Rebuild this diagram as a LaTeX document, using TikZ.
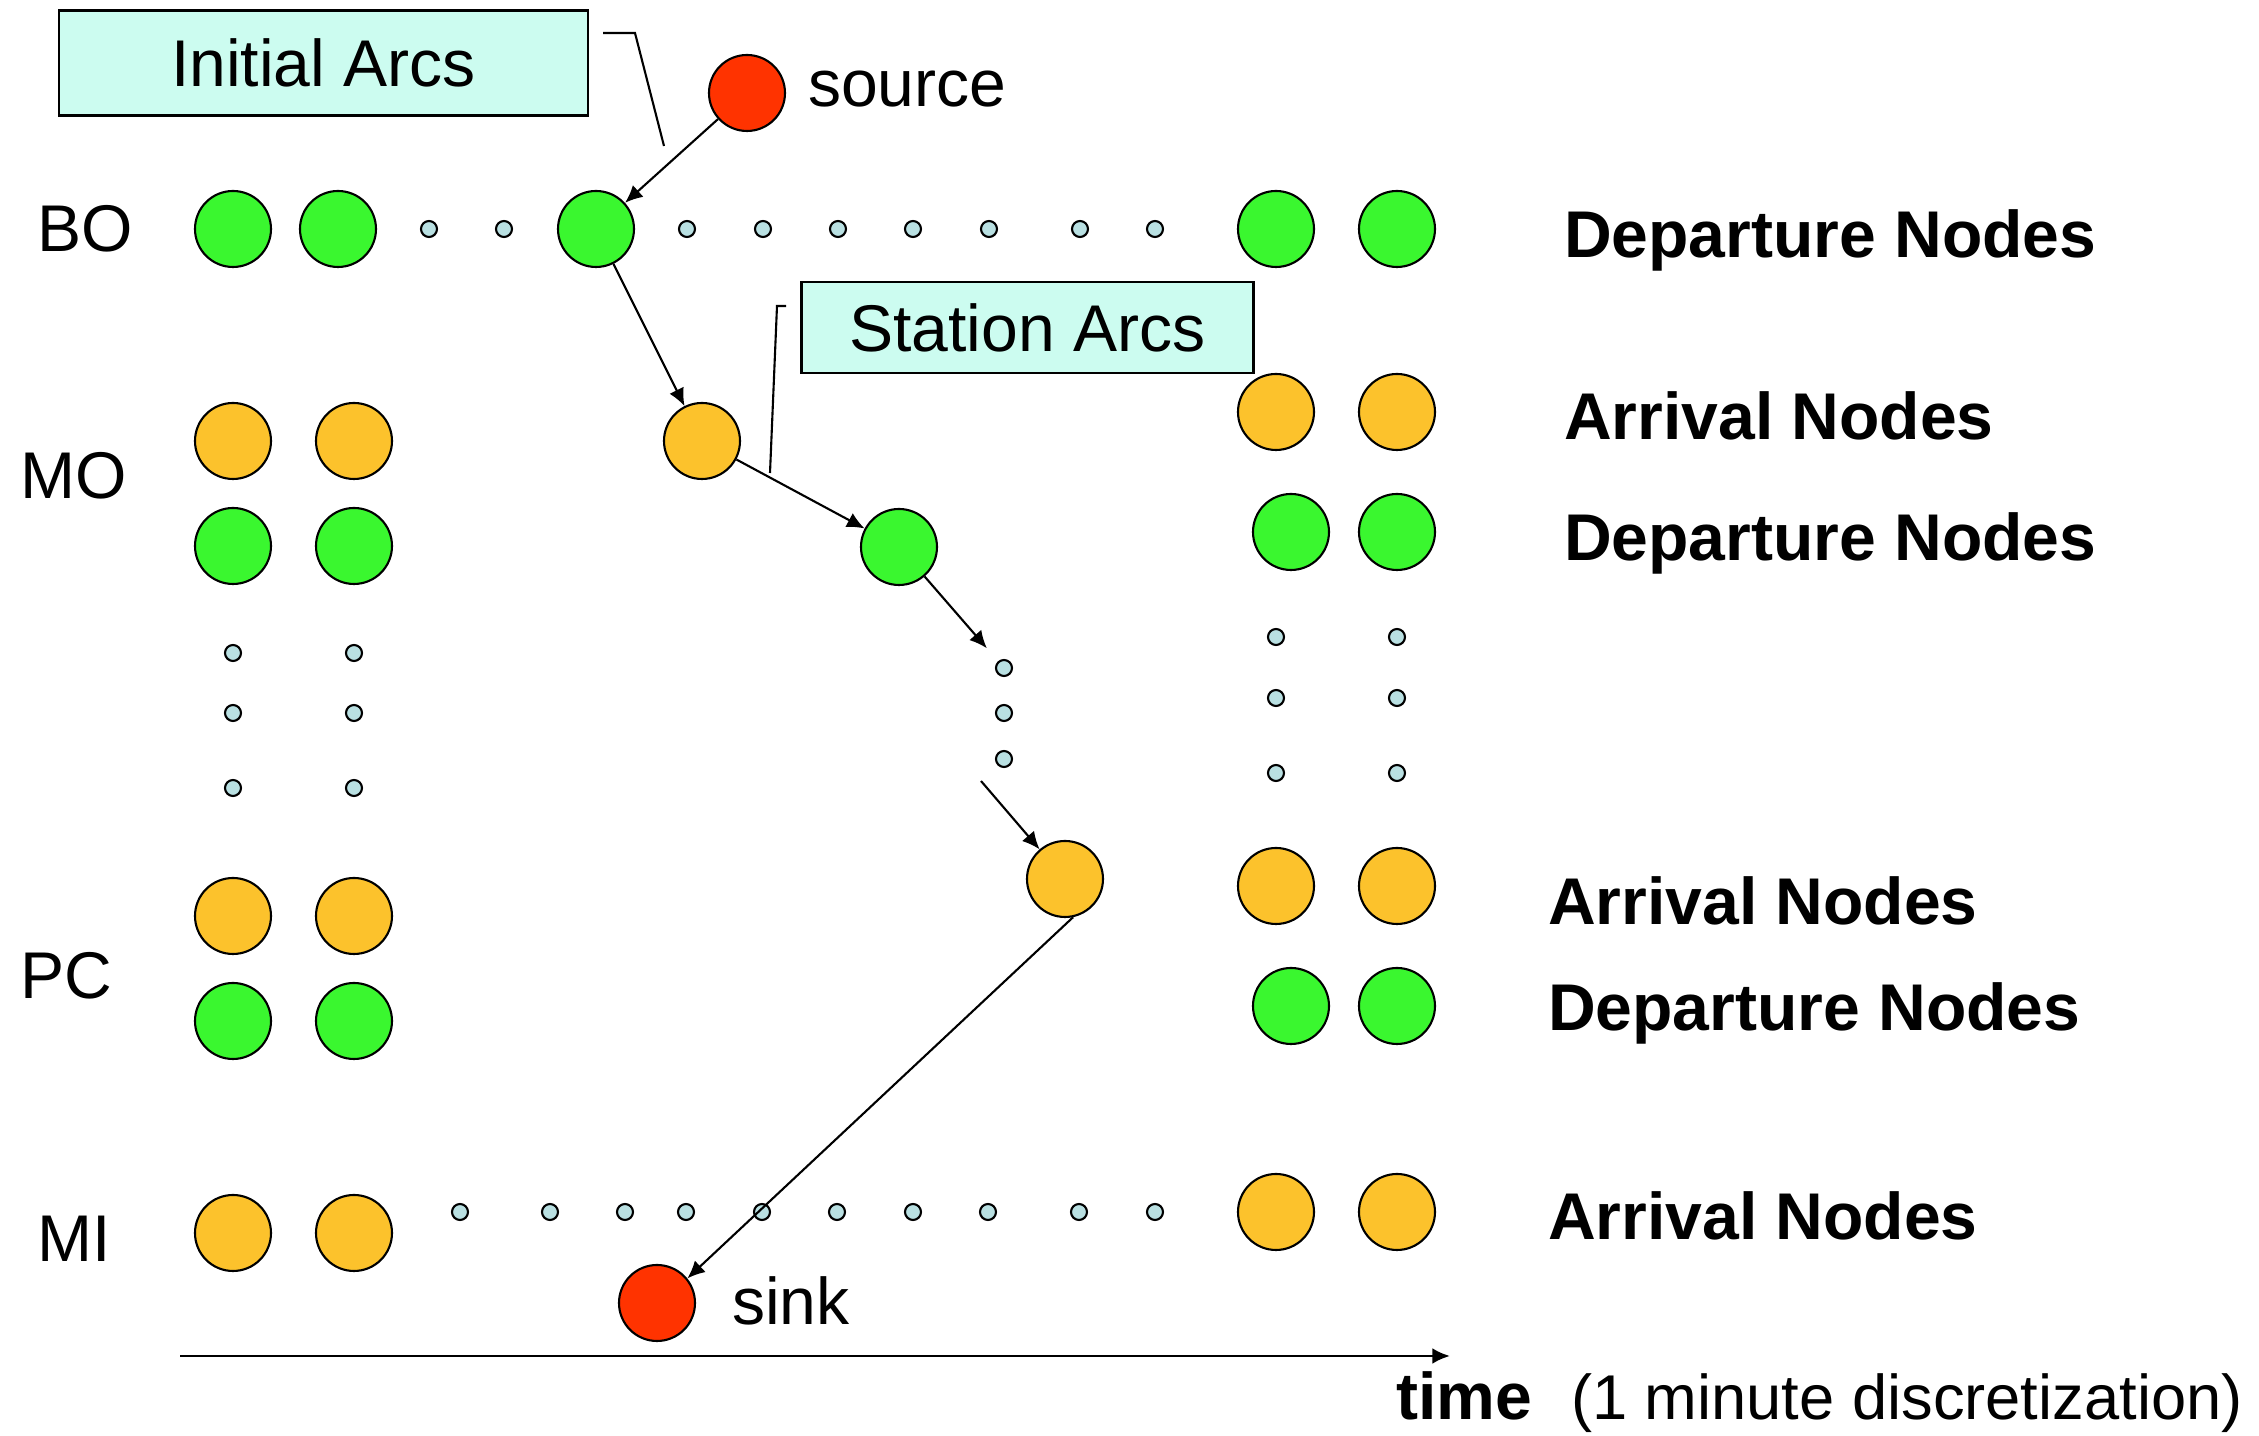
\documentclass[tikz,border=0pt]{standalone}
\usepackage{fontspec}
\setmainfont{Liberation Sans}
\usetikzlibrary{
    arrows.meta,
    positioning
}
\definecolor{depgreen}{RGB}{58,247,47}
\definecolor{arrorange}{RGB}{252,194,44}
\definecolor{termred}{RGB}{255,51,0}
\definecolor{tickblue}{RGB}{185,224,226}
\definecolor{calloutcyan}{RGB}{204,252,240}

\begin{document}
\begin{tikzpicture}[
        line width=0.6pt,
        >={Latex[length=5pt, width=4.5pt]},
        dep/.style={circle, draw, fill=depgreen, minimum size=0.76cm, inner sep=0pt},
        arr/.style={circle, draw, fill=arrorange, minimum size=0.76cm, inner sep=0pt},
        term/.style={circle, draw, fill=termred, minimum size=0.76cm, inner sep=0pt},
        tick/.style={circle, draw, fill=tickblue, minimum size=0.16cm, inner sep=0pt},
        callout/.style={draw, line width=0.8pt, fill=calloutcyan, inner sep=0pt, font=\fontsize{18.8}{22}\selectfont},
        rowlbl/.style={anchor=base west, inner sep=0pt, font=\fontsize{18.8}{22}\selectfont},
        kindlbl/.style={anchor=base west, inner sep=0pt, font=\fontsize{18.8}{22}\selectfont\bfseries}
    ]
                        \useasboundingbox (0, 0) rectangle (22.59, -14.36);

                        \node[callout, minimum width=5.29cm, minimum height=1.05cm] (initarcs) at (3.235, -0.63) {Initial Arcs};
                        \node[callout, minimum width=4.52cm, minimum height=0.91cm] (stationarcs) at (10.275, -3.275) {Station Arcs};

                        \node[term] (src) at (7.47, -0.93) {};
                        \node[term] (sink) at (6.57, -13.03) {};

                        \node[dep] (boL1) at (2.33, -2.29) {};
                        \node[dep] (boL2) at (3.38, -2.29) {};
                        \node[dep] (bo) at (5.96, -2.29) {};
                        \node[dep] (boR1) at (12.76, -2.29) {};
                        \node[dep] (boR2) at (13.97, -2.29) {};

                        \node[arr] (moaL1) at (2.33, -4.41) {};
                        \node[arr] (moaL2) at (3.54, -4.41) {};
                        \node[arr] (moa) at (7.02, -4.41) {};
                        \node[arr] (moaR1) at (12.76, -4.12) {};
                        \node[arr] (moaR2) at (13.97, -4.12) {};
                        \node[dep] (modL1) at (2.33, -5.46) {};
                        \node[dep] (modL2) at (3.54, -5.46) {};
                        \node[dep] (mod) at (8.99, -5.47) {};
                        \node[dep] (modR1) at (12.91, -5.32) {};
                        \node[dep] (modR2) at (13.97, -5.32) {};

                        \node[arr] (pcaL1) at (2.33, -9.16) {};
                        \node[arr] (pcaL2) at (3.54, -9.16) {};
                        \node[arr] (pca) at (10.65, -8.79) {};
                        \node[arr] (pcaR1) at (12.76, -8.86) {};
                        \node[arr] (pcaR2) at (13.97, -8.86) {};
                        \node[dep] (pcdL1) at (2.33, -10.21) {};
                        \node[dep] (pcdL2) at (3.54, -10.21) {};
                        \node[dep] (pcdR1) at (12.91, -10.06) {};
                        \node[dep] (pcdR2) at (13.97, -10.06) {};

                        \node[arr] (miL1) at (2.33, -12.33) {};
                        \node[arr] (miL2) at (3.54, -12.33) {};
                        \node[arr] (miR1) at (12.76, -12.12) {};
                        \node[arr] (miR2) at (13.97, -12.12) {};

                        \node[tick] (bt1) at (4.29, -2.29) {};
                        \node[tick] (bt2) at (5.04, -2.29) {};
                        \node[tick] (bt3) at (6.87, -2.29) {};
                        \node[tick] (bt4) at (7.63, -2.29) {};
                        \node[tick] (bt5) at (8.38, -2.29) {};
                        \node[tick] (bt6) at (9.13, -2.29) {};
                        \node[tick] (bt7) at (9.89, -2.29) {};
                        \node[tick] (bt8) at (10.80, -2.29) {};
                        \node[tick] (bt9) at (11.55, -2.29) {};

                        \node[tick] (mt1) at (4.60, -12.12) {};
                        \node[tick] (mt2) at (5.50, -12.12) {};
                        \node[tick] (mt3) at (6.25, -12.12) {};
                        \node[tick] (mt4) at (6.86, -12.12) {};
                        \node[tick] (mt5) at (7.62, -12.12) {};
                        \node[tick] (mt6) at (8.37, -12.12) {};
                        \node[tick] (mt7) at (9.13, -12.12) {};
                        \node[tick] (mt8) at (9.88, -12.12) {};
                        \node[tick] (mt9) at (10.79, -12.12) {};
                        \node[tick] (mt10) at (11.55, -12.12) {};

                        \node[tick] (lva1) at (2.33, -6.53) {};
                        \node[tick] (lva2) at (2.33, -7.13) {};
                        \node[tick] (lva3) at (2.33, -7.88) {};
                        \node[tick] (lvb1) at (3.54, -6.53) {};
                        \node[tick] (lvb2) at (3.54, -7.13) {};
                        \node[tick] (lvb3) at (3.54, -7.88) {};
                        \node[tick] (rva1) at (12.76, -6.37) {};
                        \node[tick] (rva2) at (12.76, -6.98) {};
                        \node[tick] (rva3) at (12.76, -7.73) {};
                        \node[tick] (rvb1) at (13.97, -6.37) {};
                        \node[tick] (rvb2) at (13.97, -6.98) {};
                        \node[tick] (rvb3) at (13.97, -7.73) {};
                        \node[tick] (ct1) at (10.04, -6.68) {};
                        \node[tick] (ct2) at (10.04, -7.13) {};
                        \node[tick] (ct3) at (10.04, -7.59) {};

                        \coordinate (gap) at (9.81, -7.81);
                        \coordinate (ia1) at (6.03, -0.33);
                        \coordinate (ia2) at (6.35, -0.33);
                        \coordinate (ia3) at (6.64, -1.46);
                        \coordinate (sa1) at (7.86, -3.06);
                        \coordinate (sa2) at (7.77, -3.06);
                        \coordinate (sa3) at (7.70, -4.73);
                        \coordinate (ax0) at (1.80, -13.56);
                        \coordinate (ax1) at (14.50, -13.56);

                        \draw
                        (src) edge[->] (bo)
                        (bo) edge[->] (moa)
                        (moa) edge[->] (mod)
                        (mod) edge[->, shorten >=0.17cm] (ct1)
                        (gap) edge[->] (pca)
                        (pca.-78) edge[->] (sink.39)
                        (ax0) edge[->, line width=0.8pt] (ax1);

                        \draw (ia1) -- (ia2) -- (ia3);
                        \draw (sa1) -- (sa2) -- (sa3);

                        \node[rowlbl] (lblbo) at (0.36, -2.52) {BO};
                        \node[rowlbl] (lblmo) at (0.19, -4.99) {MO};
                        \node[rowlbl] (lblpc) at (0.19, -9.99) {PC};
                        \node[rowlbl] (lblmi) at (0.36, -12.62) {MI};
                        \node[rowlbl] (lblsrc) at (8.07, -1.07) {source};
                        \node[rowlbl] (lblsink) at (7.31, -13.25) {sink};
                        \node[kindlbl] (kind1) at (15.63, -2.58) {Departure Nodes};
                        \node[kindlbl] (kind2) at (15.63, -4.40) {Arrival Nodes};
                        \node[kindlbl] (kind3) at (15.63, -5.61) {Departure Nodes};
                        \node[kindlbl] (kind4) at (15.47, -9.25) {Arrival Nodes};
                        \node[kindlbl] (kind5) at (15.47, -10.31) {Departure Nodes};
                        \node[kindlbl] (kind6) at (15.47, -12.40) {Arrival Nodes};
                        \node[kindlbl] (lbltime) at (13.95, -14.20) {time};
                        \node[rowlbl, font=\fontsize{18}{22}\selectfont] (lbldisc) at (15.70, -14.20) {(1 minute discretization)};
                    \end{tikzpicture}
\end{document}
